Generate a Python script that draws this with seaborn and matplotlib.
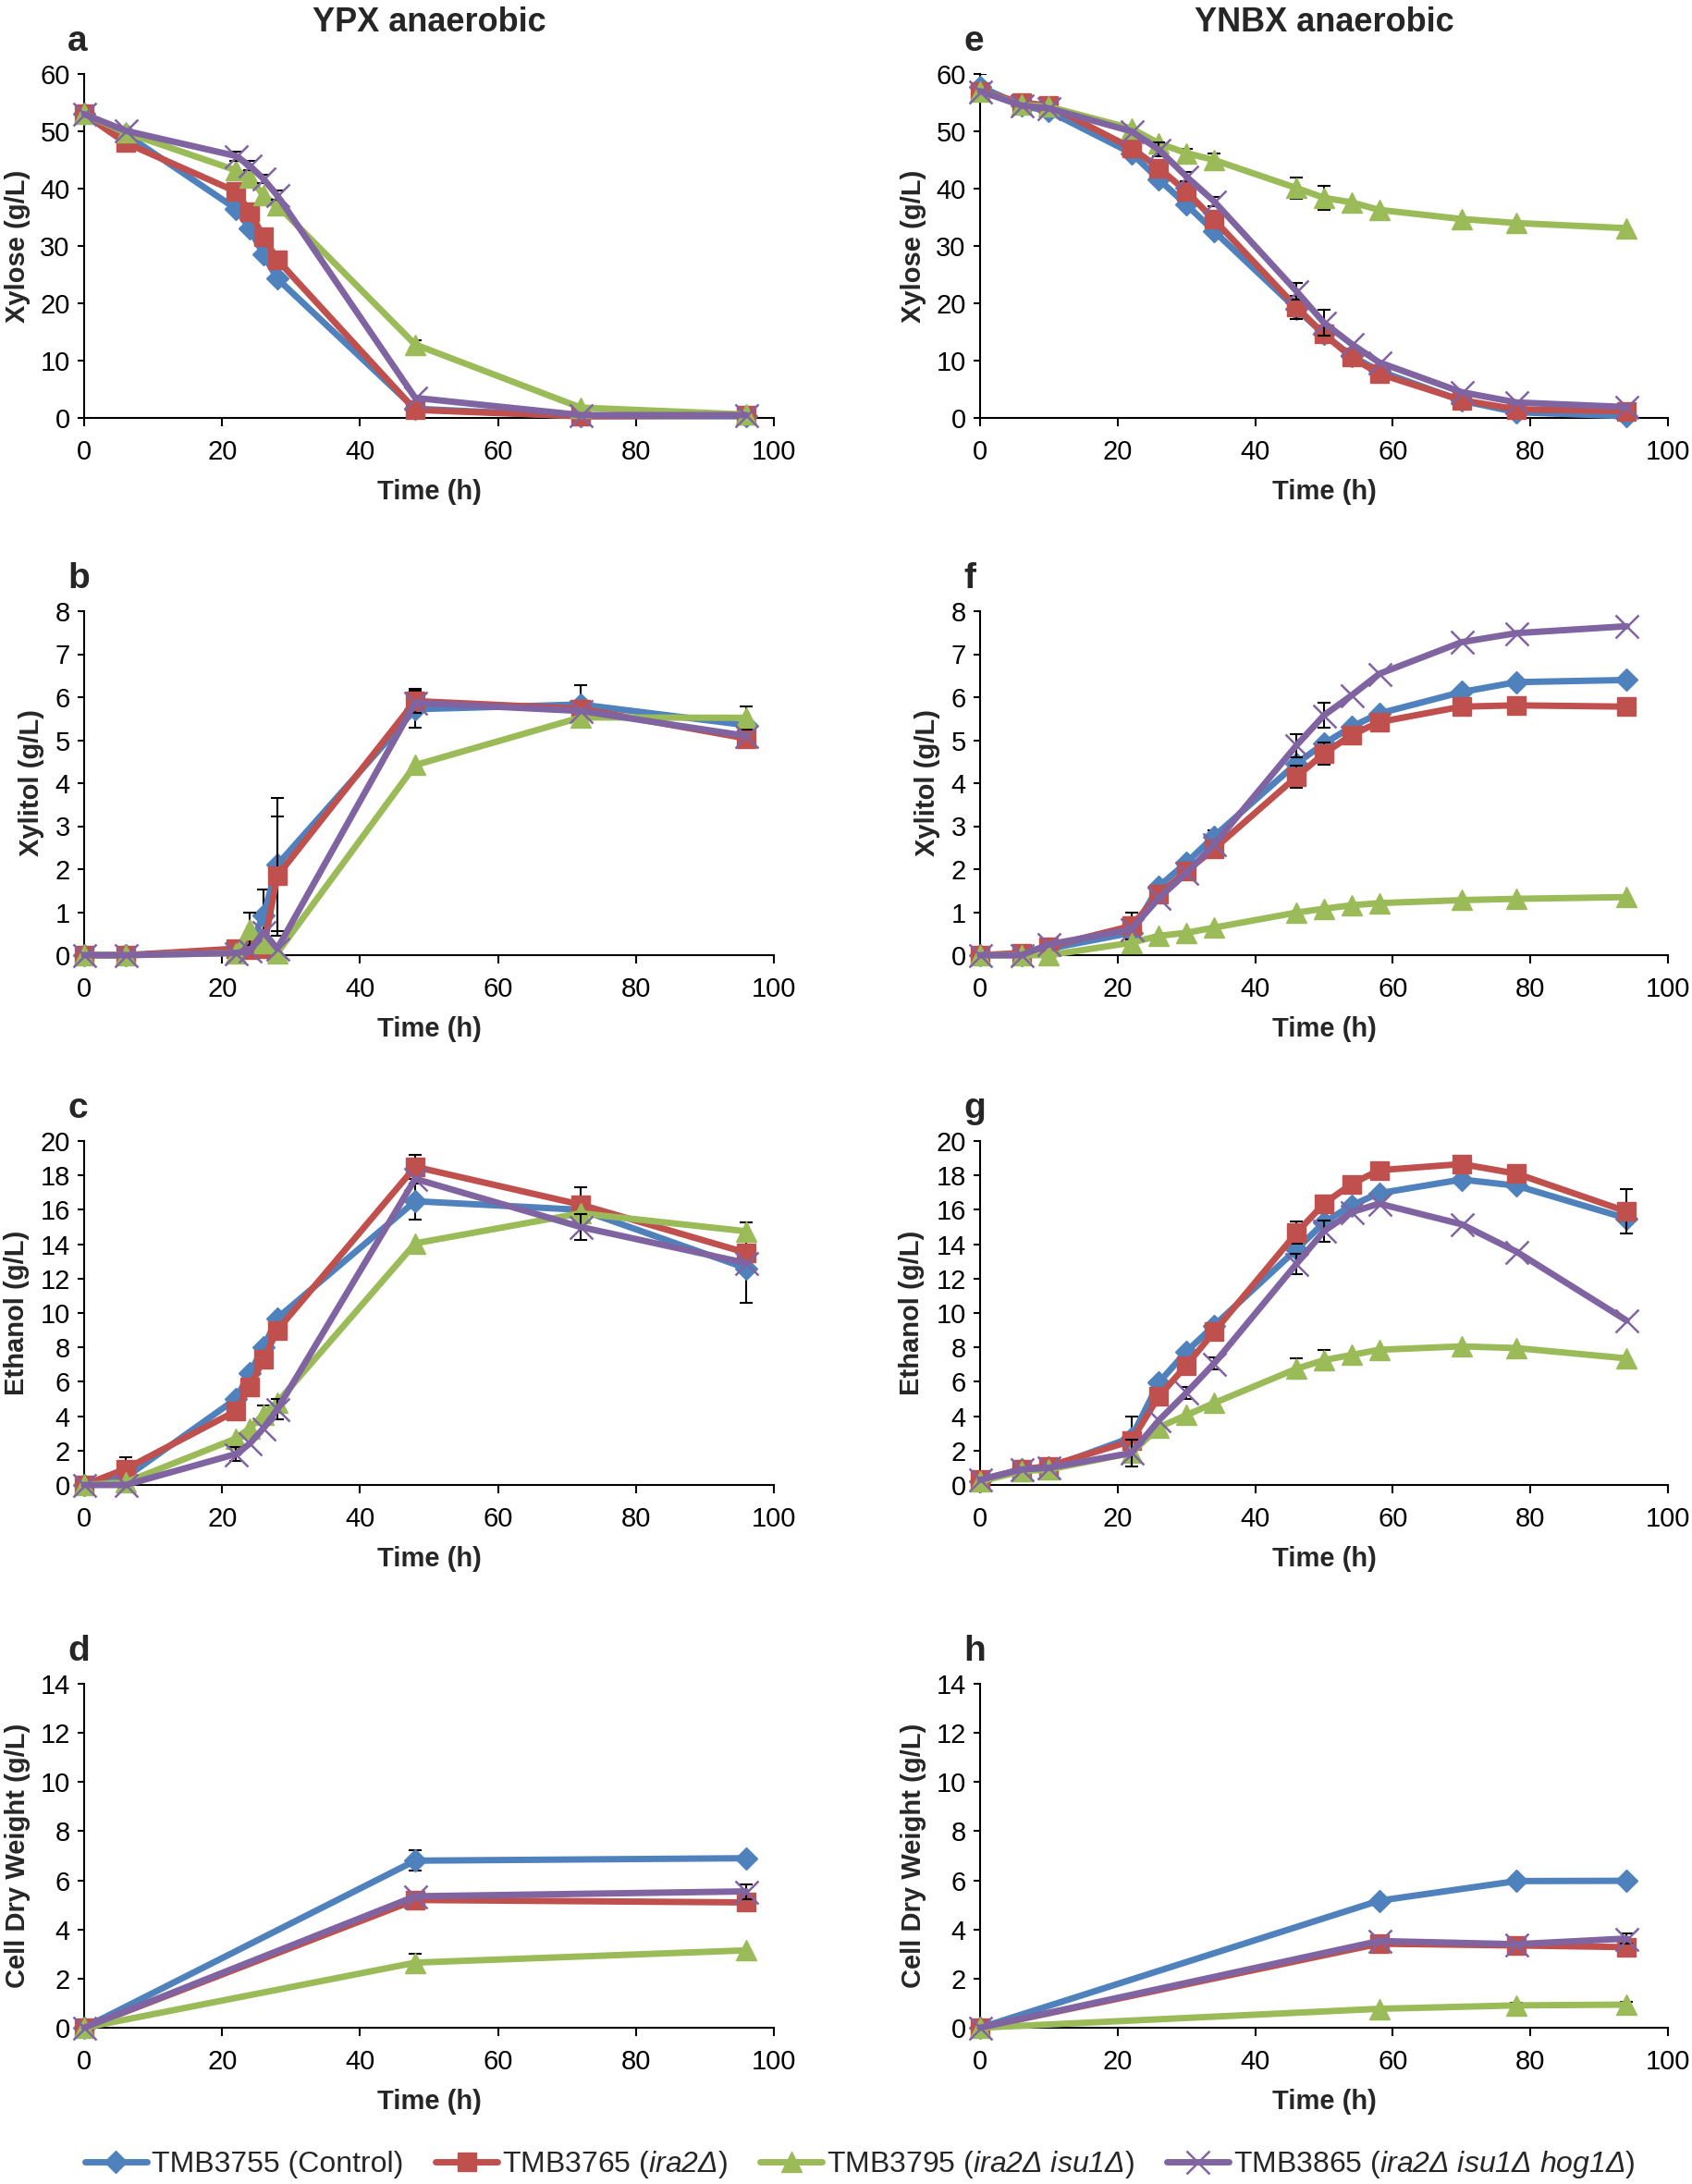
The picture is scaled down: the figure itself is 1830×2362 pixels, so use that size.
import numpy as np
import matplotlib
matplotlib.use("Agg")
import matplotlib.pyplot as plt
import seaborn as sns
from matplotlib.lines import Line2D

# ---------------- data ----------------
strains = ["TMB3755 (Control)", "TMB3765 ($ira2Δ$)", "TMB3795 ($ira2Δ\\ isu1Δ$)",
           "TMB3865 ($ira2Δ\\ isu1Δ\\ hog1Δ$)"]

t_ypx = [0, 6, 22, 24, 26, 28, 48, 72, 96]
t_ynbx = [0, 6, 10, 22, 26, 30, 34, 46, 50, 54, 58, 70, 78, 94]
t_cdw_ypx = [0, 48, 96]
t_cdw_ynbx = [0, 58, 78, 94]

# Xylose YPX (a)
xyl_ypx_control = [53, 49.5, 36.5, 33, 28.5, 24.3, 1.6, 0.3, 0.3]
xyl_ypx_ira2 = [53, 48, 39.5, 36, 31.6, 27.6, 1.4, 0.3, 0.5]
xyl_ypx_isu1 = [53, 49.8, 43.2, 42, 38.8, 37.1, 12.8, 1.8, 0.6]
xyl_ypx_hog1 = [53, 50.1, 45.7, 44, 41.7, 38.8, 3.5, 0.5, 0.5]
err_xyl_ypx_control = [0, 0, 0, 0, 0, 0, 0, 0, 0]
err_xyl_ypx_ira2 = [0, 1.2, 0, 0, 0, 0, 0, 0, 0]
err_xyl_ypx_isu1 = [0, 0, 0, 0, 0, 0, 0.8, 0, 0]
err_xyl_ypx_hog1 = [0, 0, 0.8, 0.8, 0.8, 0.8, 0, 0, 0]

# Xylitol YPX (b)
xol_ypx_control = [0, 0, 0.1, 0.2, 0.92, 2.1, 5.72, 5.83, 5.35]
xol_ypx_ira2 = [0, 0, 0.15, 0.12, 0.15, 1.84, 5.91, 5.73, 5.04]
xol_ypx_isu1 = [0, 0, 0.05, 0.61, 0.27, 0.05, 4.42, 5.53, 5.52]
xol_ypx_hog1 = [0, 0, 0.05, 0.1, 0.54, 0.15, 5.87, 5.68, 5.1]
err_xol_ypx_control = [0, 0, 0, 0, 0.6, 1.55, 0.44, 0.45, 0]
err_xol_ypx_ira2 = [0, 0, 0, 0, 0, 1.38, 0.28, 0, 0]
err_xol_ypx_isu1 = [0, 0, 0, 0.37, 0, 0, 0, 0, 0.27]
err_xol_ypx_hog1 = [0, 0, 0, 0, 0, 0, 0, 0, 0]

# Ethanol YPX (c)
eth_ypx_control = [0, 0.44, 5.0, 6.5, 8.0, 9.7, 16.5, 16.0, 12.6]
eth_ypx_ira2 = [0, 0.93, 4.3, 5.7, 7.3, 9.0, 18.5, 16.3, 13.5]
eth_ypx_isu1 = [0, 0.15, 2.7, 3.3, 4.1, 4.8, 14.05, 15.8, 14.75]
eth_ypx_hog1 = [0, 0, 1.8, 2.4, 3.3, 4.4, 17.8, 15.0, 12.9]
err_eth_ypx_control = [0, 0, 0, 0, 0, 0, 1.05, 0, 2.0]
err_eth_ypx_ira2 = [0, 0.7, 0, 0, 0, 0, 0.7, 1.0, 0]
err_eth_ypx_isu1 = [0, 0, 0, 0, 0.5, 0, 0, 0, 0.5]
err_eth_ypx_hog1 = [0, 0, 0.4, 0, 0, 0.6, 0, 0.75, 0]

# Cell dry weight YPX (d)
cdw_ypx_control = [0, 6.8, 6.9]
cdw_ypx_ira2 = [0, 5.2, 5.1]
cdw_ypx_isu1 = [0, 2.65, 3.15]
cdw_ypx_hog1 = [0, 5.35, 5.55]
err_cdw_ypx_control = [0, 0.42, 0]
err_cdw_ypx_ira2 = [0, 0, 0]
err_cdw_ypx_isu1 = [0, 0.35, 0]
err_cdw_ypx_hog1 = [0, 0, 0.3]

# Xylose YNBX (e)
xyl_ynbx_control = [57.8, 54.5, 53.5, 46.2, 41.6, 37.2, 32.6, 19.0, 14.6, 10.8, 8.2, 3.0, 1.0, 0.3]
xyl_ynbx_ira2 = [57, 55, 54.5, 47.1, 43.6, 39.5, 34.6, 19.3, 14.6, 10.6, 7.7, 3.1, 1.5, 1.2]
xyl_ynbx_isu1 = [57, 54.6, 54.3, 50.5, 47.9, 46.2, 45.0, 40.1, 38.4, 37.6, 36.3, 34.7, 34.0, 33.1]
xyl_ynbx_hog1 = [57, 54.5, 54, 50, 46.8, 42.1, 37.8, 22.1, 16.6, 12.9, 9.7, 4.5, 2.7, 1.9]
err_xyl_ynbx_control = [2.2, 0, 0, 0, 0, 0, 0, 0, 0, 0, 0, 0, 0, 0]
err_xyl_ynbx_ira2 = [0, 0, 0, 0, 0, 0, 0, 2.0, 0, 0, 0, 0, 0, 0]
err_xyl_ynbx_isu1 = [0, 0, 0, 0, 0, 0.8, 1.2, 1.9, 2.1, 0, 0, 0, 0, 0]
err_xyl_ynbx_hog1 = [0, 0, 0, 0, 1.2, 0.8, 0.8, 1.5, 2.3, 0, 0, 0, 0, 0]

# Xylitol YNBX (f)
xol_ynbx_control = [0, 0, 0.15, 0.52, 1.6, 2.15, 2.76, 4.46, 4.92, 5.31, 5.62, 6.12, 6.35, 6.4]
xol_ynbx_ira2 = [0, 0.05, 0.2, 0.68, 1.41, 1.95, 2.47, 4.15, 4.69, 5.12, 5.42, 5.78, 5.81, 5.78]
xol_ynbx_isu1 = [0, 0, 0, 0.29, 0.45, 0.52, 0.64, 0.99, 1.08, 1.16, 1.21, 1.28, 1.31, 1.35]
xol_ynbx_hog1 = [0, 0, 0.25, 0.6, 1.33, 1.91, 2.57, 4.88, 5.58, 6.04, 6.54, 7.28, 7.49, 7.65]
err_xol_ynbx_control = [0, 0, 0, 0, 0, 0, 0.15, 0, 0, 0, 0, 0, 0, 0]
err_xol_ynbx_ira2 = [0, 0, 0, 0.32, 0, 0, 0, 0.25, 0.25, 0, 0, 0, 0, 0]
err_xol_ynbx_isu1 = [0, 0, 0, 0, 0, 0, 0, 0, 0, 0, 0, 0, 0, 0]
err_xol_ynbx_hog1 = [0, 0, 0, 0, 0, 0, 0, 0.27, 0.3, 0, 0, 0, 0, 0]

# Ethanol YNBX (g)
eth_ynbx_control = [0.2, 0.9, 1.0, 2.76, 5.96, 7.76, 9.26, 13.7, 15.26, 16.26, 16.96, 17.76, 17.4, 15.5]
eth_ynbx_ira2 = [0.3, 0.9, 1.1, 2.56, 5.16, 6.96, 8.9, 14.66, 16.36, 17.5, 18.3, 18.66, 18.1, 15.9]
eth_ynbx_isu1 = [0.2, 0.8, 0.9, 1.86, 3.36, 4.06, 4.76, 6.76, 7.26, 7.56, 7.86, 8.06, 7.96, 7.36]
eth_ynbx_hog1 = [0.3, 0.9, 1.0, 1.86, 3.76, 5.36, 7.06, 12.86, 14.76, 15.86, 16.36, 15.16, 13.56, 9.56]
err_eth_ynbx_control = [0, 0.5, 0.5, 1.2, 0, 0, 0, 0, 0, 0, 0, 0, 0, 0]
err_eth_ynbx_ira2 = [0, 0, 0, 0, 0, 0, 0, 0.65, 0.45, 0, 0, 0, 0, 1.3]
err_eth_ynbx_isu1 = [0, 0, 0, 0, 0, 0, 0, 0.6, 0.6, 0, 0, 0, 0, 0]
err_eth_ynbx_hog1 = [0, 0, 0, 0.8, 0, 0.35, 0.35, 0.6, 0.6, 0, 0, 0, 0, 0]

# Cell dry weight YNBX (h)
cdw_ynbx_control = [0, 5.17, 5.97, 5.98]
cdw_ynbx_ira2 = [0, 3.42, 3.35, 3.28]
cdw_ynbx_isu1 = [0, 0.77, 0.91, 0.94]
cdw_ynbx_hog1 = [0, 3.53, 3.4, 3.63]
err_cdw_ynbx_control = [0, 0, 0, 0]
err_cdw_ynbx_ira2 = [0, 0, 0, 0]
err_cdw_ynbx_isu1 = [0, 0, 0.12, 0.12]
err_cdw_ynbx_hog1 = [0, 0, 0, 0.2]

titles = ["YPX anaerobic", "YNBX anaerobic"]
ylabels = ["Xylose (g/L)", "Xylitol (g/L)", "Ethanol (g/L)", "Cell Dry Weight (g/L)"]
ymax = [60, 8, 20, 14]
ystep = [10, 1, 2, 2]
xticks = [0, 20, 40, 60, 80, 100]

# ---------------- style ----------------
sns.set_theme(style="ticks")
plt.rcParams["font.family"] = ["Liberation Sans", "DejaVu Sans"]
plt.rcParams["mathtext.fontset"] = "custom"
plt.rcParams["mathtext.rm"] = "Liberation Sans:italic"
plt.rcParams["mathtext.it"] = "Liberation Sans:italic"
plt.rcParams["mathtext.bf"] = "Liberation Sans:bold"

colors = ["#4F81BD", "#C0504D", "#9BBB59", "#8064A2"]
markers = ["D", "s", "^", "x"]
msizes = [12, 15, 16, 18]
mews = [1.0, 1.0, 1.0, 1.8]
LW = 5

fig = plt.figure(figsize=(18.31, 23.62), dpi=100)
W, H = 1831.0, 2362.0
col_x = [(91, 746), (1060, 744)]
row_y = [(80, 452), (661, 1033), (1234, 1606), (1821, 2193)]

panel_data = {
    (0, 0): (t_ypx, [xyl_ypx_control, xyl_ypx_ira2, xyl_ypx_isu1, xyl_ypx_hog1],
             [err_xyl_ypx_control, err_xyl_ypx_ira2, err_xyl_ypx_isu1, err_xyl_ypx_hog1], "a", -0.097),
    (1, 0): (t_ypx, [xol_ypx_control, xol_ypx_ira2, xol_ypx_isu1, xol_ypx_hog1],
             [err_xol_ypx_control, err_xol_ypx_ira2, err_xol_ypx_isu1, err_xol_ypx_hog1], "b", -0.076),
    (2, 0): (t_ypx, [eth_ypx_control, eth_ypx_ira2, eth_ypx_isu1, eth_ypx_hog1],
             [err_eth_ypx_control, err_eth_ypx_ira2, err_eth_ypx_isu1, err_eth_ypx_hog1], "c", -0.098),
    (3, 0): (t_cdw_ypx, [cdw_ypx_control, cdw_ypx_ira2, cdw_ypx_isu1, cdw_ypx_hog1],
             [err_cdw_ypx_control, err_cdw_ypx_ira2, err_cdw_ypx_isu1, err_cdw_ypx_hog1], "d", -0.097),
    (0, 1): (t_ynbx, [xyl_ynbx_control, xyl_ynbx_ira2, xyl_ynbx_isu1, xyl_ynbx_hog1],
             [err_xyl_ynbx_control, err_xyl_ynbx_ira2, err_xyl_ynbx_isu1, err_xyl_ynbx_hog1], "e", -0.097),
    (1, 1): (t_ynbx, [xol_ynbx_control, xol_ynbx_ira2, xol_ynbx_isu1, xol_ynbx_hog1],
             [err_xol_ynbx_control, err_xol_ynbx_ira2, err_xol_ynbx_isu1, err_xol_ynbx_hog1], "f", -0.077),
    (2, 1): (t_ynbx, [eth_ynbx_control, eth_ynbx_ira2, eth_ynbx_isu1, eth_ynbx_hog1],
             [err_eth_ynbx_control, err_eth_ynbx_ira2, err_eth_ynbx_isu1, err_eth_ynbx_hog1], "g", -0.099),
    (3, 1): (t_cdw_ynbx, [cdw_ynbx_control, cdw_ynbx_ira2, cdw_ynbx_isu1, cdw_ynbx_hog1],
             [err_cdw_ynbx_control, err_cdw_ynbx_ira2, err_cdw_ynbx_isu1, err_cdw_ynbx_hog1], "h", -0.097),
}

for (r, c), (t, series, errs, letter, ylab_x) in panel_data.items():
    x0, w = col_x[c]
    top, bot = row_y[r]
    ax = fig.add_axes([x0 / W, 1 - bot / H, w / W, (bot - top) / H])
    tt = np.asarray(t, dtype=float)
    for i, (vals, ee) in enumerate(zip(series, errs)):
        vv = np.asarray(vals, dtype=float)
        ee = np.asarray(ee, dtype=float)
        m = ee > 0
        if m.any():
            ax.errorbar(tt[m], vv[m], yerr=ee[m], fmt="none", ecolor="black",
                        elinewidth=1.5, capsize=5, capthick=1.5, zorder=2 + 2 * i)
        sns.lineplot(x=tt, y=vv, ax=ax, color=colors[i], marker=markers[i],
                     markersize=msizes[i], markeredgecolor=colors[i],
                     markeredgewidth=mews[i], linewidth=LW, estimator=None,
                     sort=False, legend=False, clip_on=False, zorder=3 + 2 * i)
    ax.set_xlim(0, 100)
    ax.set_ylim(0, ymax[r])
    ax.set_xticks(xticks)
    ax.set_yticks(np.arange(0, ymax[r] + 0.001, ystep[r]))
    ax.set_yticklabels([f"{v:g}" for v in np.arange(0, ymax[r] + 0.001, ystep[r])])
    sns.despine(ax=ax)
    for s in ["left", "bottom"]:
        ax.spines[s].set_linewidth(1.5)
        ax.spines[s].set_color("black")
    ax.tick_params(axis="x", direction="out", length=6.5, width=1.5, pad=10,
                   labelsize=21, colors="black")
    ax.tick_params(axis="y", direction="out", length=5, width=1.5, pad=6,
                   labelsize=21, colors="black")
    ax.set_xlabel("Time (h)", fontsize=21, fontweight="bold", va="center")
    ax.xaxis.set_label_coords(0.5, -0.215)
    ax.set_ylabel(ylabels[r], fontsize=21, fontweight="bold", va="center")
    ax.yaxis.set_label_coords(ylab_x, 0.5)
    ax.text(-0.024, 1.067, letter, transform=ax.transAxes, fontsize=28,
            fontweight="bold", ha="left", va="baseline")
    ax.grid(False)
    if r == 0:
        fig.text((x0 + w / 2) / W, 1 - 34 / H, titles[c], fontsize=26,
                 fontweight="bold", ha="center", va="baseline")

handles = [Line2D([0], [0], color=colors[i], marker=markers[i], markersize=msizes[i],
                  markeredgecolor=colors[i], markeredgewidth=mews[i], linewidth=LW)
           for i in range(4)]
fig.legend(handles, strains, loc="center", bbox_to_anchor=(930 / W, 1 - 2341 / H),
           ncol=4, frameon=False, fontsize=23, handlelength=2.1, handletextpad=0.15,
           columnspacing=1.1, numpoints=1)

fig.savefig("out.png", dpi=100)
